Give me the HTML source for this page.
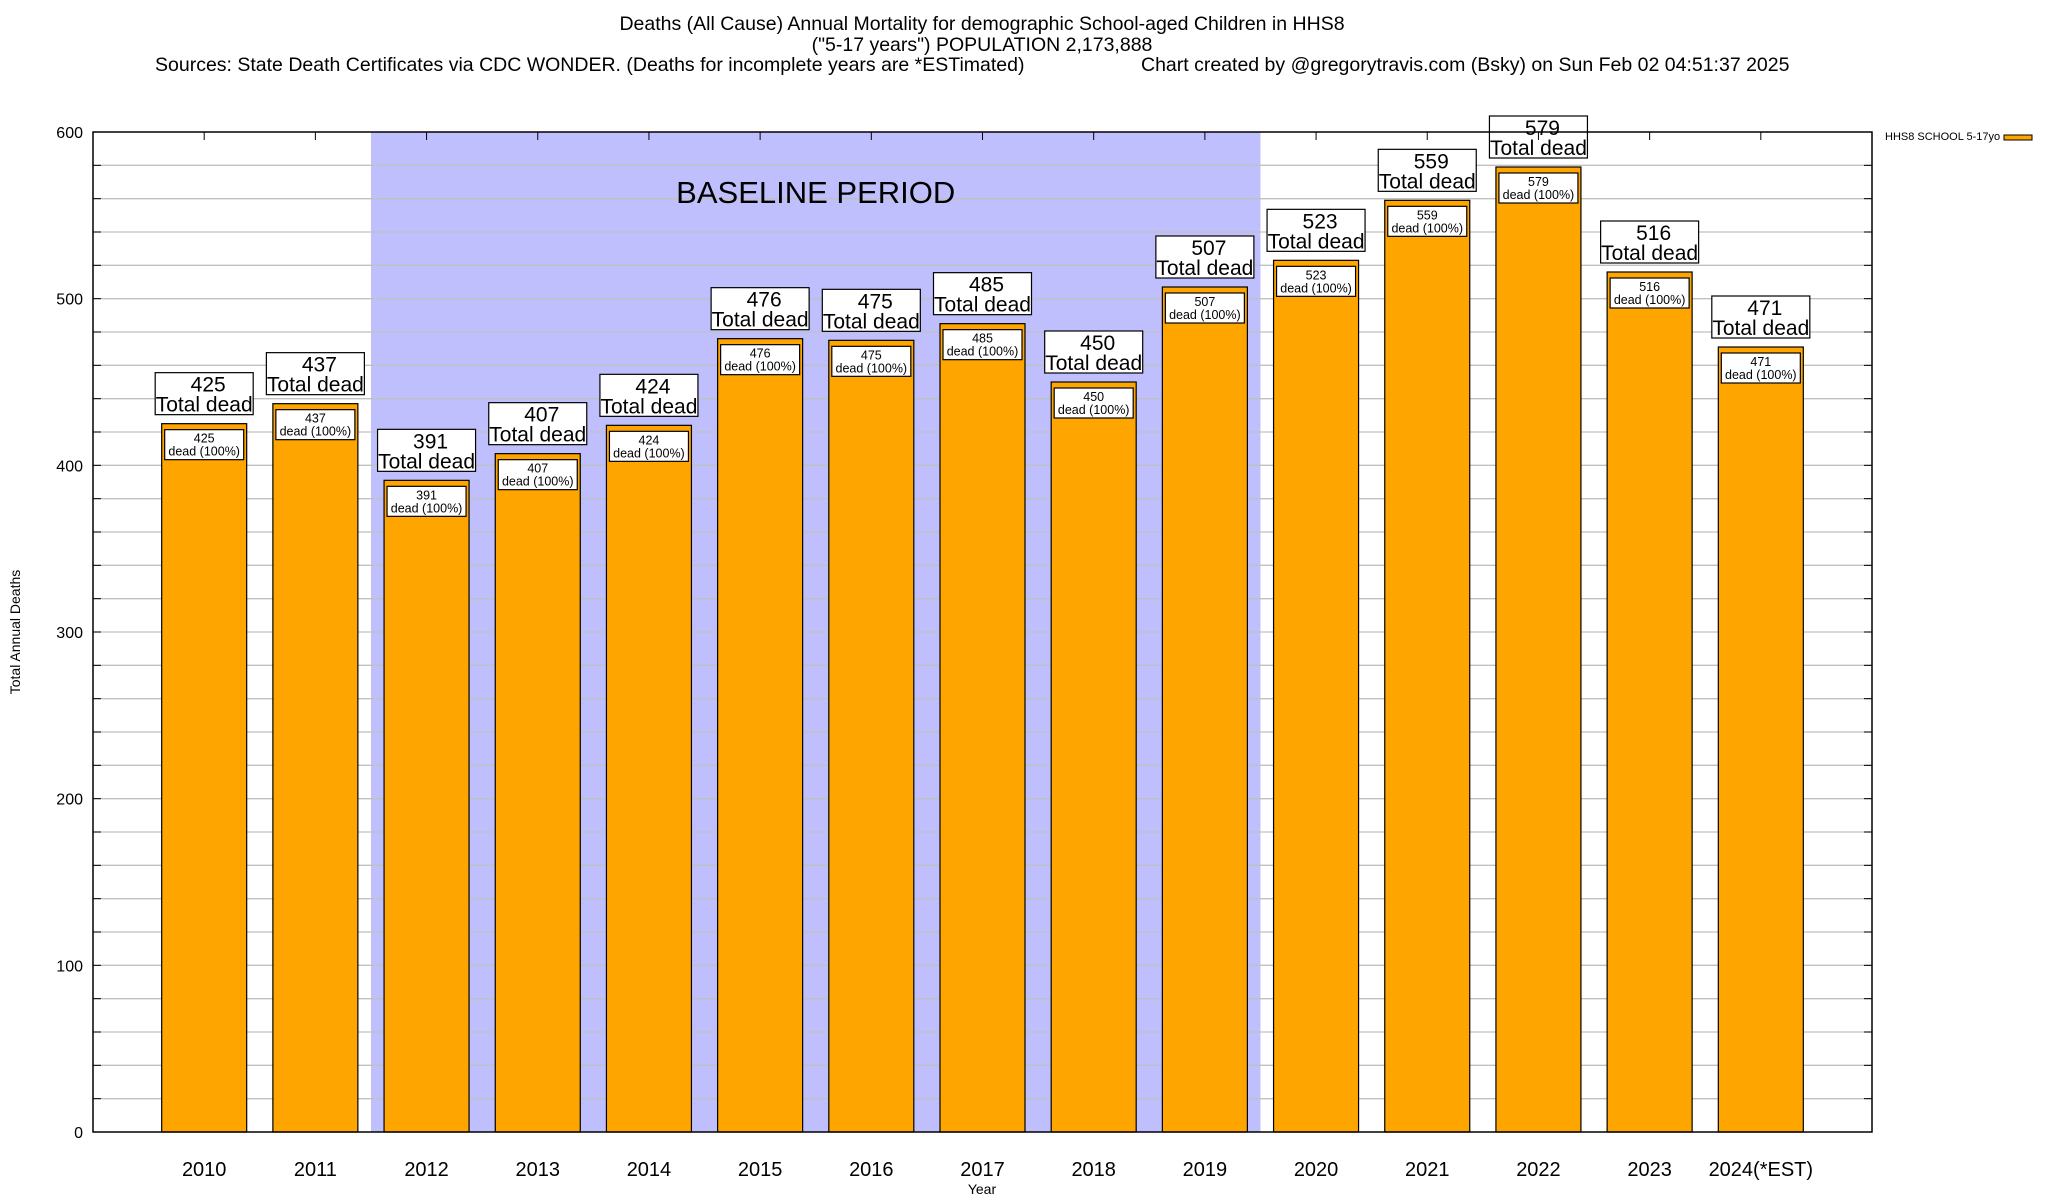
<!DOCTYPE html>
<html><head><meta charset="utf-8"><style>
html,body{margin:0;padding:0;background:#fff;}
svg{display:block;font-family:"Liberation Sans",Arial,sans-serif;}
</style></head><body>
<svg id="chart" width="2048" height="1200" viewBox="0 0 2048 1200" xmlns="http://www.w3.org/2000/svg">
<text x="982" y="30" font-size="19.5" text-anchor="middle">Deaths (All Cause) Annual Mortality for demographic School-aged Children in HHS8</text>
<text x="982" y="51" font-size="19.5" text-anchor="middle">("5-17 years") POPULATION 2,173,888</text>
<text x="155" y="71" font-size="19.5">Sources: State Death Certificates via CDC WONDER. (Deaths for incomplete years are *ESTimated)</text>
<text x="1141" y="71" font-size="19.5">Chart created by @gregorytravis.com (Bsky) on Sun Feb 02 04:51:37 2025</text>
<g id="plot"></g>
<text x="982" y="1194" font-size="14" text-anchor="middle">Year</text>
<text transform="translate(20,632) rotate(-90)" font-size="14" text-anchor="middle">Total Annual Deaths</text>
<text x="1885" y="140" font-size="11">HHS8 SCHOOL 5-17yo</text>
<rect x="2004" y="135" width="28" height="5" fill="#ffa500" stroke="#000" stroke-width="1"/>
</svg>
<script>
const categories = ["2010","2011","2012","2013","2014","2015","2016","2017","2018","2019","2020","2021","2022","2023","2024(*EST)"];
const deaths = [425,437,391,407,424,476,475,485,450,507,523,559,579,516,471];
const yTicks = [0,100,200,300,400,500,600];
const baselineRange = [2, 9];

const NS = "http://www.w3.org/2000/svg";
const L = 93, R = 1872, T = 132, B = 1132;
const yMax = 600;
const slot = (R - L) / (categories.length + 1);
function xPos(i){ return L + slot * (i + 1); }
function yPos(v){ return B - (v / yMax) * (B - T); }
const plot = document.getElementById('plot');
function mk(tag, attrs, parent){
  const e = document.createElementNS(NS, tag);
  for (const k in attrs) e.setAttribute(k, attrs[k]);
  (parent || plot).appendChild(e);
  return e;
}

const bx1 = xPos(baselineRange[0] - 0.5), bx2 = xPos(baselineRange[1] + 0.5);
const shade = mk('rect', {x: bx1, y: T, width: bx2 - bx1, height: B - T, fill: '#bfbffd'});



for (let v = 20; v < yMax; v += 20) {
  const g = mk('line', {x1: L, x2: R, y1: yPos(v), y2: yPos(v), stroke: '#c0c0c0', 'stroke-width': 1.3});
  
  
  const t1 = mk('line', {x1: L, x2: L + 8, y1: yPos(v), y2: yPos(v), stroke: '#000', 'stroke-width': 1});
  
  
  const t2 = mk('line', {x1: R - 8, x2: R, y1: yPos(v), y2: yPos(v), stroke: '#000', 'stroke-width': 1});
  
  
}

const bl = mk('text', {x: (bx1 + bx2) / 2, y: 203, 'font-size': 31, 'text-anchor': 'middle'});
bl.textContent = 'BASELINE PERIOD';



yTicks.forEach(v => {
  const t = mk('text', {x: 83, y: yPos(v) + 6, 'font-size': 16, 'text-anchor': 'end'});
  t.textContent = v;
  
  
});

const bw = 85;
categories.forEach((c, i) => {
  const cx = xPos(i), v = deaths[i], top = yPos(v);
  const g = mk('g', {});
  
  
  mk('rect', {x: cx - bw/2, y: top, width: bw, height: B - top, fill: '#ffa500', stroke: '#000', 'stroke-width': 1.2}, g);
  mk('rect', {x: cx - bw/2 + 3, y: top + 6, width: bw - 6, height: 30, fill: '#fff', stroke: '#000', 'stroke-width': 1.2}, g);
  const it1 = mk('text', {x: cx, y: top + 19, 'font-size': 12.5, 'text-anchor': 'middle'}, g);
  it1.textContent = v;
  const it2 = mk('text', {x: cx, y: top + 32, 'font-size': 12.5, 'text-anchor': 'middle'}, g);
  it2.textContent = 'dead (100%)';
  const lb = mk('rect', {x: cx - 49, y: top - 51, width: 98, height: 42, fill: '#fff', stroke: '#000', 'stroke-width': 1.2}, g);
  
  
  const t1 = mk('text', {x: cx + 4, y: top - 32, 'font-size': 21, 'text-anchor': 'middle'}, g);
  t1.textContent = v;
  const t2 = mk('text', {x: cx, y: top - 12, 'font-size': 21, 'text-anchor': 'middle'}, g);
  t2.textContent = 'Total dead';
  const tk = mk('line', {x1: cx, x2: cx, y1: T, y2: T + 8, stroke: '#000', 'stroke-width': 1});
  
  
  const xl = mk('text', {x: cx, y: 1176, 'font-size': 20, 'text-anchor': 'middle'});
  xl.textContent = c;
  
  
});

const frame = mk('rect', {x: L, y: T, width: R - L, height: B - T, fill: 'none', stroke: '#000', 'stroke-width': 1.5});


</script>
</body></html>
